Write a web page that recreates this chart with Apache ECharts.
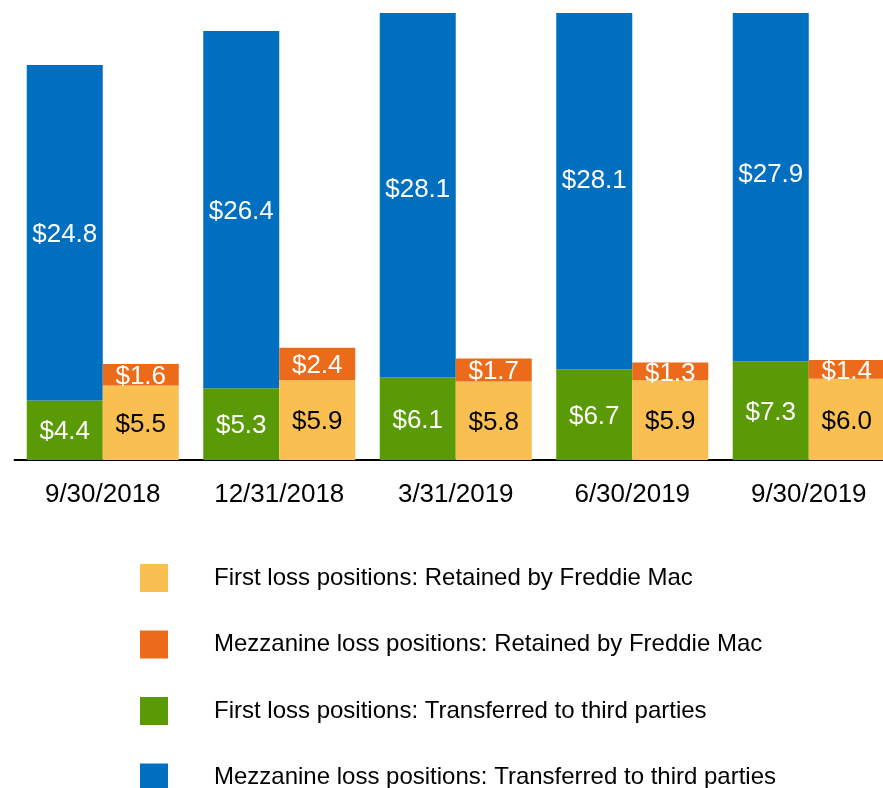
<!DOCTYPE html>
<html>
<head>
<meta charset="utf-8">
<script src="https://cdn.jsdelivr.net/npm/echarts@6/dist/echarts.min.js"></script>
<style>
html,body{margin:0;padding:0;background:#fff;}
#chart{width:883px;height:788px;}
</style>
</head>
<body>
<div id="chart"></div>
<script>
var categories = ['9/30/2018', '12/31/2018', '3/31/2019', '6/30/2019', '9/30/2019'];
var firstLossRetained = [5.5, 5.9, 5.8, 5.9, 6.0];
var mezzRetained = [1.6, 2.4, 1.7, 1.3, 1.4];
var firstLossTransferred = [4.4, 5.3, 6.1, 6.7, 7.3];
var mezzTransferred = [24.8, 26.4, 28.1, 28.1, 27.9];

var names = {
  flr: 'First loss positions: Retained by Freddie Mac',
  mzr: 'Mezzanine loss positions: Retained by Freddie Mac',
  flt: 'First loss positions: Transferred to third parties',
  mzt: 'Mezzanine loss positions: Transferred to third parties'
};
var colors = { flr: '#F9BF50', mzr: '#EC6B1A', flt: '#5B9A07', mzt: '#006FC0' };
var FONT = '"Liberation Sans", Arial, sans-serif';

function lbl(color) {
  return {
    show: true, position: 'inside', color: color, fontSize: 26, fontFamily: FONT, offset: [0, 2],
    formatter: function (p) { return '$' + p.value.toFixed(1); }
  };
}

var chart = echarts.init(document.getElementById('chart'), null, { renderer: 'canvas' });
chart.setOption({
  animation: false,
  backgroundColor: '#ffffff',
  grid: { left: 14.5, right: -14, top: 0, bottom: 328, containLabel: false, outerBoundsMode: 'none' },
  xAxis: {
    type: 'category', data: categories,
    axisLine: { show: true, lineStyle: { color: '#000', width: 2 } },
    axisTick: { show: false },
    axisLabel: { color: '#000', fontSize: 26, fontFamily: FONT, margin: 22 }
  },
  yAxis: { type: 'value', min: 0, max: 34, show: false, splitLine: { show: false } },
  legend: {
    orient: 'vertical', left: 140, top: 564, height: 300, padding: 0,
    itemWidth: 28, itemHeight: 28, itemGap: 38.5, icon: 'rect',
    textStyle: { fontSize: 24, color: '#000', fontFamily: FONT, padding: [0, 0, 0, 41] },
    data: [names.flr, names.mzr, names.flt, names.mzt]
  },
  series: [
    { name: names.flt, type: 'bar', stack: 'third', data: firstLossTransferred, barWidth: 76, barGap: '0%',
      itemStyle: { color: colors.flt }, label: lbl('#fff') },
    { name: names.mzt, type: 'bar', stack: 'third', data: mezzTransferred, barWidth: 76, barGap: '0%', clip: false,
      itemStyle: { color: colors.mzt }, label: lbl('#fff') },
    { name: names.flr, type: 'bar', stack: 'retained', data: firstLossRetained, barWidth: 76, barGap: '0%',
      itemStyle: { color: colors.flr }, label: lbl('#000') },
    { name: names.mzr, type: 'bar', stack: 'retained', data: mezzRetained, barWidth: 76, barGap: '0%',
      itemStyle: { color: colors.mzr }, label: lbl('#fff') }
  ],
  graphic: [
    { type: 'rect', left: 0, top: 0, z: 100, shape: { width: 883, height: 13 }, style: { fill: '#ffffff' } }
  ]
});
</script>
</body>
</html>
